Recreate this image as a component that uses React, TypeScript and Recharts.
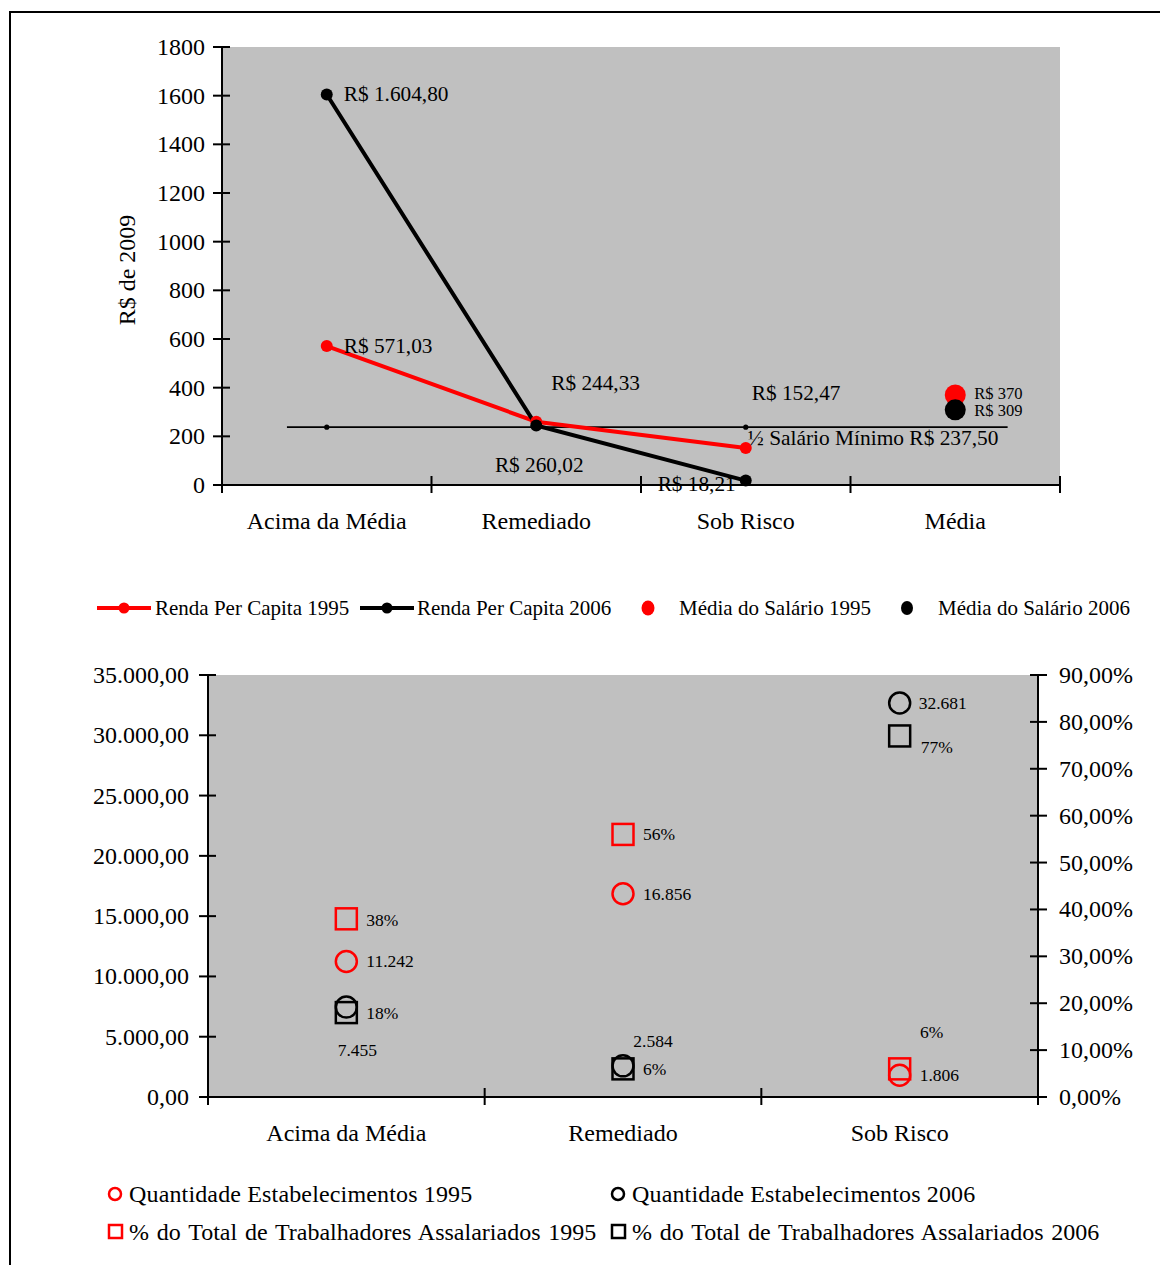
import React from 'react';
import { ComposedChart, Line, XAxis, YAxis, CartesianGrid, ReferenceLine, LabelList } from 'recharts';

// ---- gráfico 1: renda per capita ----
const categorias = ['Acima da Média', 'Remediado', 'Sob Risco', 'Média'];
const renda1995 = [571.03, 260.02, 152.47, null];
const renda2006 = [1604.8, 244.33, 18.21, null];
const mediaSalario1995 = [null, null, null, 370];
const mediaSalario2006 = [null, null, null, 309];
const meioSalario = [237.5, 237.5, 237.5, null];
const meioSalarioValor = 237.5;
const meioSalarioFaixa = [0.31, 3.75];
const rendaTicks = [0, 200, 400, 600, 800, 1000, 1200, 1400, 1600, 1800];

// ---- gráfico 2: estabelecimentos ----
const categorias2 = ['Acima da Média', 'Remediado', 'Sob Risco'];
const estab1995 = [11242, 16856, 1806];
const estab2006 = [7455, 2584, 32681];
const assal1995 = [0.38, 0.56, 0.06];
const assal2006 = [0.18, 0.06, 0.77];
const estabTicks = [0, 5000, 10000, 15000, 20000, 25000, 30000, 35000];
const pctTicks = [0, 0.1, 0.2, 0.3, 0.4, 0.5, 0.6, 0.7, 0.8, 0.9];

const serif = "'Liberation Serif', 'Times New Roman', serif";
const RED = '#ff0000';
const BLACK = '#000000';
const GRAY = '#c0c0c0';

const dadosRenda = categorias.map((c, i) => ({
  x: i + 0.5,
  r95: renda1995[i],
  r06: renda2006[i],
  m95: mediaSalario1995[i],
  m06: mediaSalario2006[i],
  piso: meioSalario[i],
}));

const dadosEstab = categorias2.map((c, i) => ({
  x: i + 0.5,
  e95: estab1995[i],
  e06: estab2006[i],
  a95: assal1995[i],
  a06: assal2006[i],
}));

const milhar = (n: number, dec = 0) => {
  const [i, d] = n.toFixed(dec).split('.');
  const s = i.replace(/\B(?=(\d{3})+(?!\d))/g, '.');
  return d ? s + ',' + d : s;
};
const reais = (v: number) => 'R$ ' + milhar(v, 2);
const reaisInt = (v: number) => 'R$ ' + milhar(v, 0);
const pct = (v: number) => Math.round(v * 100) + '%';

type Off = { dx: number; dy: number; a: 'start' | 'middle' | 'end' } | null;
const dir = (dx: number, dy = 0): Off => ({ dx, dy, a: 'start' });
const mid = (dx: number, dy: number): Off => ({ dx, dy, a: 'middle' });
const fim = (dx: number, dy: number): Off => ({ dx, dy, a: 'end' });

const rotulo = (offs: Off[], fmt: (v: number) => string, size: number) => (p: any) => {
  const v = p.value;
  const o = offs[p.index];
  if (v == null || !o) return null;
  const x = p.x ?? p.viewBox?.x;
  const y = p.y ?? p.viewBox?.y;
  if (x == null || y == null) return null;
  return (
    <text key={p.index} x={x + o.dx} y={y + o.dy} textAnchor={o.a} dominantBaseline="central"
      fontSize={size} fontFamily={serif} fill="#000">
      {fmt(v)}
    </text>
  );
};

// ticks em faixas: inteiros = traço, .5 = nome da categoria
const tickFaixa = (nomes: string[]) => (p: any) => {
  const { x, y, payload } = p;
  const v = payload.value;
  if (Number.isInteger(v)) {
    return <line x1={x} x2={x} y1={y - 9} y2={y + 8} stroke="#000" strokeWidth={2} />;
  }
  return (
    <text x={x} y={y + 36} textAnchor="middle" dominantBaseline="central" fontSize={24} fontFamily={serif} fill="#000">
      {nomes[Math.floor(v)]}
    </text>
  );
};

const tickEsq = (fmt: (v: number) => string, gap: number) => (p: any) => {
  const { x, y, payload } = p;
  return (
    <g>
      <line x1={x - 9} x2={x + 8} y1={y} y2={y} stroke="#000" strokeWidth={2} />
      <text x={x - gap} y={y} textAnchor="end" dominantBaseline="central" fontSize={24} fontFamily={serif} fill="#000">
        {fmt(payload.value)}
      </text>
    </g>
  );
};

const tickDir = (fmt: (v: number) => string, gap: number) => (p: any) => {
  const { x, y, payload } = p;
  return (
    <g>
      <line x1={x - 8} x2={x + 9} y1={y} y2={y} stroke="#000" strokeWidth={2} />
      <text x={x + gap} y={y} textAnchor="start" dominantBaseline="central" fontSize={24} fontFamily={serif} fill="#000">
        {fmt(payload.value)}
      </text>
    </g>
  );
};

const circulo = (cor: string) => (p: any) =>
  p.cx == null || p.cy == null ? <g key={p.index} /> :
    <circle key={p.index} cx={p.cx} cy={p.cy} r={10.5} fill="none" stroke={cor} strokeWidth={2.5} />;

const quadrado = (cor: string) => (p: any) =>
  p.cx == null || p.cy == null ? <g key={p.index} /> :
    <rect key={p.index} x={p.cx - 10.5} y={p.cy - 10.5} width={21} height={21} fill="none" stroke={cor} strokeWidth={2.5} />;

const eixo = { stroke: '#000', strokeWidth: 2 };

const legTxt: React.CSSProperties = { position: 'absolute', fontFamily: serif, whiteSpace: 'nowrap', lineHeight: 1, color: '#000' };

const App: React.FC = () => {
  return (
    <div style={{ position: 'absolute', left: 0, top: 0, width: 1160, height: 1265, overflow: 'hidden', background: '#fff' }}>
      <div style={{ position: 'absolute', left: 9, top: 11, width: 1160, height: 1265, borderTop: '2px solid #000', borderLeft: '2px solid #000' }} />

      {/* Renda per capita */}
      <div style={{ position: 'absolute', left: 0, top: 0 }}>
        <ComposedChart width={1160} height={560} data={dadosRenda} margin={{ top: 47, right: 100, bottom: 15, left: 122 }}>
          <CartesianGrid horizontal={false} vertical={false} fill={GRAY} />
          <XAxis dataKey="x" type="number" domain={[0, 4]} ticks={[0, 0.5, 1, 1.5, 2, 2.5, 3, 3.5, 4]} interval={0}
            height={60} tickSize={0} tickMargin={0} tickLine={false} axisLine={eixo} tick={tickFaixa(categorias)} />
          <YAxis type="number" domain={[0, 1800]} ticks={rendaTicks} interval={0} width={100}
            tickSize={0} tickMargin={0} tickLine={false} axisLine={eixo} tick={tickEsq(String, 17)} />
          <ReferenceLine segment={[{ x: meioSalarioFaixa[0], y: meioSalarioValor }, { x: meioSalarioFaixa[1], y: meioSalarioValor }]}
            stroke="#000" strokeWidth={1.8} />
          <Line dataKey="piso" stroke="none" isAnimationActive={false} activeDot={false}
            dot={{ r: 2.6, fill: BLACK, stroke: BLACK, strokeWidth: 0 }}>
            <LabelList dataKey="piso" content={rotulo([null, null, dir(2, 11), null], () => '½ Salário Mínimo R$ 237,50', 21.4)} />
          </Line>
          <Line dataKey="r95" stroke={RED} strokeWidth={4} isAnimationActive={false} activeDot={false}
            dot={{ r: 6, fill: RED, stroke: RED, strokeWidth: 0 }}>
            <LabelList dataKey="r95" content={rotulo([dir(17), mid(3, 43), dir(6, -55), null], reais, 21.3)} />
          </Line>
          <Line dataKey="r06" stroke={BLACK} strokeWidth={4} isAnimationActive={false} activeDot={false}
            dot={{ r: 6, fill: BLACK, stroke: BLACK, strokeWidth: 0 }}>
            <LabelList dataKey="r06" content={rotulo([dir(17), dir(15, -43), fim(-10, 3), null], reais, 21.3)} />
          </Line>
          <Line dataKey="m95" stroke="none" isAnimationActive={false} activeDot={false}
            dot={{ r: 10.5, fill: RED, stroke: RED, strokeWidth: 0 }}>
            <LabelList dataKey="m95" content={rotulo([null, null, null, dir(19, -1)], reaisInt, 16.5)} />
          </Line>
          <Line dataKey="m06" stroke="none" isAnimationActive={false} activeDot={false}
            dot={{ r: 10.5, fill: BLACK, stroke: BLACK, strokeWidth: 0 }}>
            <LabelList dataKey="m06" content={rotulo([null, null, null, dir(19, 1)], reaisInt, 16.5)} />
          </Line>
        </ComposedChart>
      </div>
      <div style={{ ...legTxt, left: 127, top: 270, fontSize: 24, transform: 'translate(-50%, -50%) rotate(-90deg)' }}>R$ de 2009</div>

      {/* legenda 1 */}
      <svg style={{ position: 'absolute', left: 0, top: 595 }} width={1160} height={26}>
        <line x1={97} x2={151} y1={13} y2={13} stroke={RED} strokeWidth={4} />
        <circle cx={124} cy={13} r={5.5} fill={RED} />
        <line x1={360} x2={414} y1={13} y2={13} stroke={BLACK} strokeWidth={4} />
        <circle cx={387} cy={13} r={5.5} fill={BLACK} />
        <ellipse cx={648} cy={13} rx={6.5} ry={7.5} fill={RED} />
        <ellipse cx={907} cy={13} rx={6} ry={7} fill={BLACK} />
      </svg>
      <div style={{ ...legTxt, left: 155, top: 598, fontSize: 21 }}>Renda Per Capita 1995</div>
      <div style={{ ...legTxt, left: 417, top: 598, fontSize: 21 }}>Renda Per Capita 2006</div>
      <div style={{ ...legTxt, left: 679, top: 598, fontSize: 21 }}>Média do Salário 1995</div>
      <div style={{ ...legTxt, left: 938, top: 598, fontSize: 21 }}>Média do Salário 2006</div>

      {/* Estabelecimentos */}
      <div style={{ position: 'absolute', left: 0, top: 640 }}>
        <ComposedChart width={1160} height={520} data={dadosEstab} margin={{ top: 35, right: 12, bottom: 3, left: 98 }}>
          <CartesianGrid horizontal={false} vertical={false} fill={GRAY} />
          <XAxis dataKey="x" type="number" domain={[0, 3]} ticks={[0, 0.5, 1, 1.5, 2, 2.5, 3]} interval={0}
            height={60} tickSize={0} tickMargin={0} tickLine={false} axisLine={eixo} tick={tickFaixa(categorias2)} />
          <YAxis yAxisId="esq" type="number" domain={[0, 35000]} ticks={estabTicks} interval={0} width={110}
            tickSize={0} tickMargin={0} tickLine={false} axisLine={eixo} tick={tickEsq((v) => milhar(v, 2), 19)} />
          <YAxis yAxisId="dir" orientation="right" type="number" domain={[0, 0.9]} ticks={pctTicks} interval={0} width={110}
            tickSize={0} tickMargin={0} tickLine={false} axisLine={eixo} tick={tickDir((v) => milhar(v * 100, 2) + '%', 21)} />
          <Line yAxisId="dir" dataKey="a95" stroke="none" isAnimationActive={false} activeDot={false} dot={quadrado(RED)}>
            <LabelList dataKey="a95" content={rotulo([dir(20, 1), dir(20), mid(32, -37)], pct, 17.5)} />
          </Line>
          <Line yAxisId="esq" dataKey="e95" stroke="none" isAnimationActive={false} activeDot={false} dot={circulo(RED)}>
            <LabelList dataKey="e95" content={rotulo([dir(20), dir(20), dir(20)], (v) => milhar(v), 17.5)} />
          </Line>
          <Line yAxisId="dir" dataKey="a06" stroke="none" isAnimationActive={false} activeDot={false} dot={quadrado(BLACK)}>
            <LabelList dataKey="a06" content={rotulo([dir(20), dir(20), dir(21, 11)], pct, 17.5)} />
          </Line>
          <Line yAxisId="esq" dataKey="e06" stroke="none" isAnimationActive={false} activeDot={false} dot={circulo(BLACK)}>
            <LabelList dataKey="e06" content={rotulo([mid(11, 43), mid(30, -25), dir(19)], (v) => milhar(v), 17.5)} />
          </Line>
        </ComposedChart>
      </div>

      {/* legenda 2 */}
      <svg style={{ position: 'absolute', left: 0, top: 1180 }} width={1160} height={66}>
        <circle cx={115} cy={14} r={6} fill="none" stroke={RED} strokeWidth={2.5} />
        <circle cx={618} cy={14} r={6} fill="none" stroke={BLACK} strokeWidth={2.5} />
        <rect x={109} y={45} width={13} height={13} fill="none" stroke={RED} strokeWidth={2.5} />
        <rect x={612} y={45} width={13} height={13} fill="none" stroke={BLACK} strokeWidth={2.5} />
      </svg>
      <div style={{ ...legTxt, left: 129, top: 1182, fontSize: 24, letterSpacing: 0.15 }}>Quantidade Estabelecimentos 1995</div>
      <div style={{ ...legTxt, left: 632, top: 1182, fontSize: 24, letterSpacing: 0.15 }}>Quantidade Estabelecimentos 2006</div>
      <div style={{ ...legTxt, left: 129, top: 1220, fontSize: 24, wordSpacing: 1.8 }}>% do Total de Trabalhadores Assalariados 1995</div>
      <div style={{ ...legTxt, left: 632, top: 1220, fontSize: 24, wordSpacing: 1.8 }}>% do Total de Trabalhadores Assalariados 2006</div>
    </div>
  );
};

export default App;
